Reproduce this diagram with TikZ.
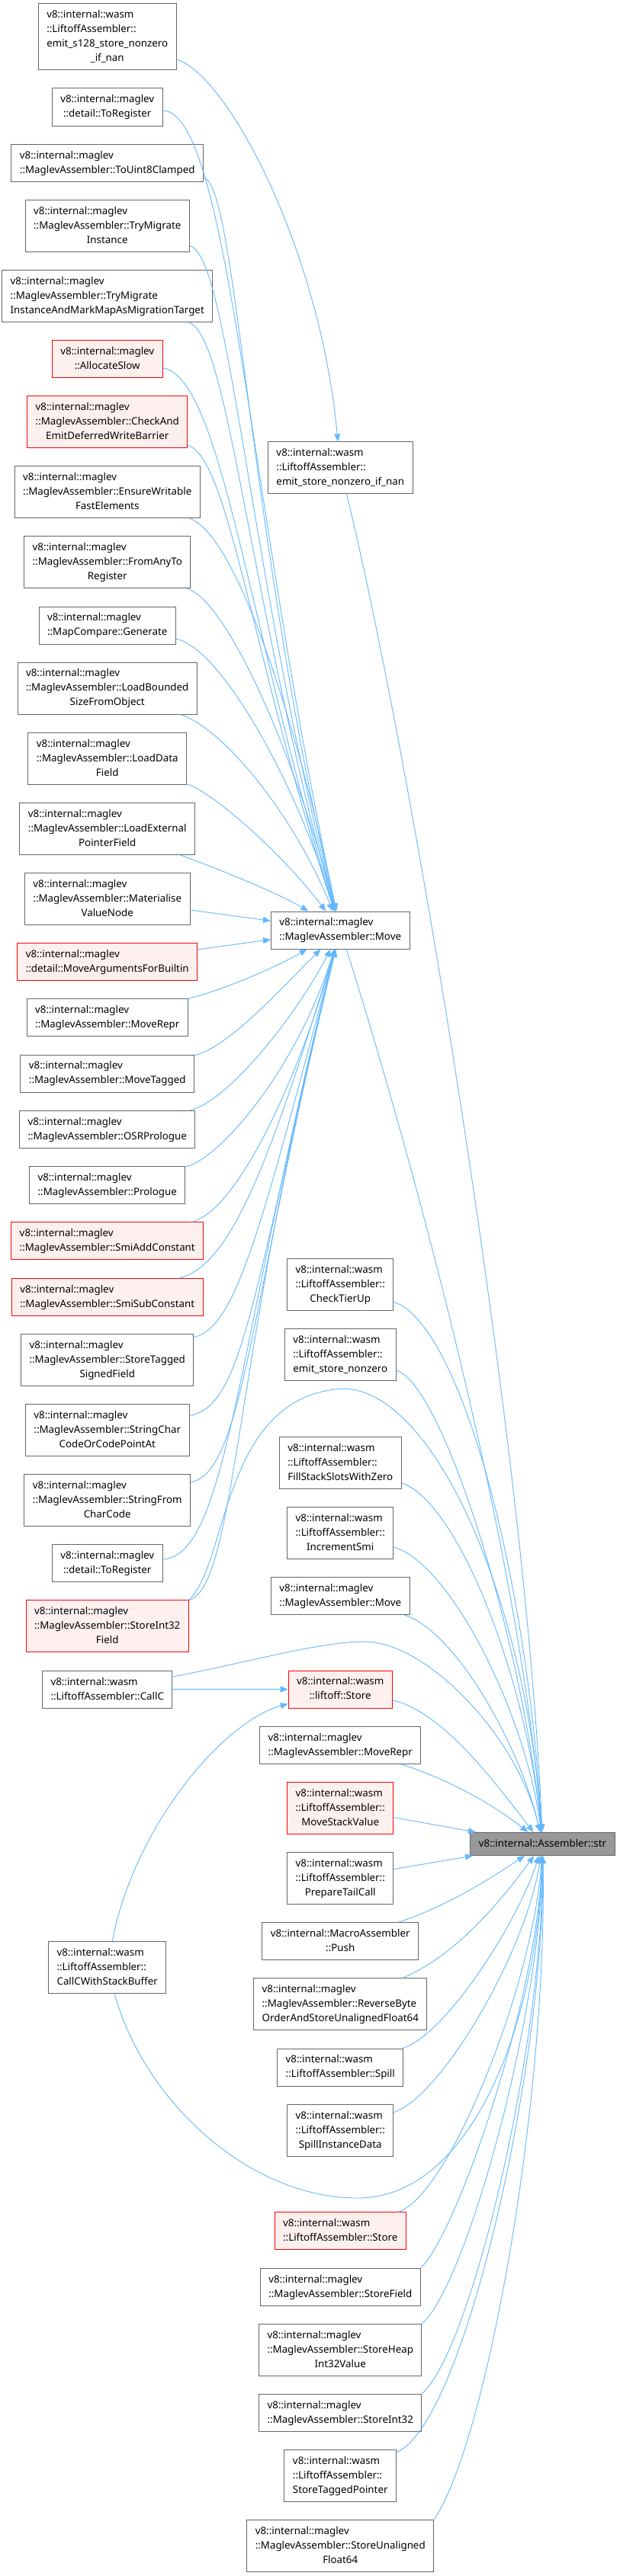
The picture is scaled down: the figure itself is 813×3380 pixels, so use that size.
\documentclass[tikz,border=0pt]{standalone}
\usepackage{fontspec}
\setmainfont{Noto Sans}
\usepackage{tikz}
\usepackage{xcolor}
\usetikzlibrary{arrows.meta}
\definecolor{edgeblue}{HTML}{63B8FF}
\definecolor{boxgray}{HTML}{666666}
\definecolor{redline}{HTML}{FF0000}
\definecolor{redfill}{HTML}{FFF0F0}
\definecolor{tgtfill}{HTML}{999999}
\newcommand\fnlab[2]{\begin{tabular}{@{}l@{}}#1\\\multicolumn{1}{@{}c@{}}{#2}\end{tabular}}
\tikzset{
  fnbox/.style={draw=boxgray,fill=white,line width=1pt,
                inner xsep=11pt,inner ysep=5.5pt,
                font=\fontsize{13.33}{19}\selectfont},
  fnred/.style={fnbox,draw=redline,fill=redfill},
  fntarget/.style={fnbox,fill=tgtfill},
  calledge/.style={draw=edgeblue,line width=0.9pt,
                   -{Triangle[length=10pt,width=8pt]}}
}

\begin{document}
\begin{tikzpicture}[x=1pt,y=-1pt]
  \fill[white] (0,0) rectangle (813,3380);
  \useasboundingbox (0,0) rectangle (813,3380);

  \node[fnbox] (s128) at (140.75,48.5) {\fnlab{v8::internal::wasm\\::LiftoffAssembler::\\emit\_s128\_store\_nonzero}{\_if\_nan}};
  \node[fnbox] (toreg) at (140.75,140.5) {\fnlab{v8::internal::maglev}{::detail::ToRegister}};
  \node[fnbox] (u8) at (140.75,214) {\fnlab{v8::internal::maglev}{::MaglevAssembler::ToUint8Clamped}};
  \node[fnbox] (tmi) at (140.75,296.5) {\fnlab{v8::internal::maglev\\::MaglevAssembler::TryMigrate}{Instance}};
  \node[fnbox] (tmm) at (140.75,388.6) {\fnlab{v8::internal::maglev\\::MaglevAssembler::TryMigrate}{InstanceAndMarkMapAsMigrationTarget}};
  \node[fnred] (alloc) at (140.75,471.3) {\fnlab{v8::internal::maglev}{::AllocateSlow}};
  \node[fnred] (chk) at (140.75,553.7) {\fnlab{v8::internal::maglev\\::MaglevAssembler::CheckAnd}{EmitDeferredWriteBarrier}};
  \node[fnbox] (ens) at (140.75,645.7) {\fnlab{v8::internal::maglev\\::MaglevAssembler::EnsureWritable}{FastElements}};
  \node[fnbox] (fat) at (140.75,737.6) {\fnlab{v8::internal::maglev\\::MaglevAssembler::FromAnyTo}{Register}};
  \node[fnbox] (mapc) at (140.75,820.5) {\fnlab{v8::internal::maglev}{::MapCompare::Generate}};
  \node[fnbox] (lbs) at (140.75,903.1) {\fnlab{v8::internal::maglev\\::MaglevAssembler::LoadBounded}{SizeFromObject}};
  \node[fnbox] (ldf) at (140.75,995.2) {\fnlab{v8::internal::maglev\\::MaglevAssembler::LoadData}{Field}};
  \node[fnbox] (lep) at (140.75,1087.2) {\fnlab{v8::internal::maglev\\::MaglevAssembler::LoadExternal}{PointerField}};
  \node[fnbox] (mat) at (140.75,1179.4) {\fnlab{v8::internal::maglev\\::MaglevAssembler::Materialise}{ValueNode}};
  \node[fnred] (mab) at (140.75,1261.8) {\fnlab{v8::internal::maglev}{::detail::MoveArgumentsForBuiltin}};
  \node[fnbox] (mrp) at (140.75,1335.3) {\fnlab{v8::internal::maglev}{::MaglevAssembler::MoveRepr}};
  \node[fnbox] (mtg) at (140.75,1408.5) {\fnlab{v8::internal::maglev}{::MaglevAssembler::MoveTagged}};
  \node[fnbox] (osr) at (140.75,1481.8) {\fnlab{v8::internal::maglev}{::MaglevAssembler::OSRPrologue}};
  \node[fnbox] (pro) at (140.75,1555.1) {\fnlab{v8::internal::maglev}{::MaglevAssembler::Prologue}};
  \node[fnred] (sadd) at (140.75,1628.4) {\fnlab{v8::internal::maglev}{::MaglevAssembler::SmiAddConstant}};
  \node[fnred] (ssub) at (140.75,1701.9) {\fnlab{v8::internal::maglev}{::MaglevAssembler::SmiSubConstant}};
  \node[fnbox] (sts) at (140.75,1784.6) {\fnlab{v8::internal::maglev\\::MaglevAssembler::StoreTagged}{SignedField}};
  \node[fnbox] (scc) at (140.75,1876.3) {\fnlab{v8::internal::maglev\\::MaglevAssembler::StringChar}{CodeOrCodePointAt}};
  \node[fnbox] (sfc) at (140.75,1968.5) {\fnlab{v8::internal::maglev\\::MaglevAssembler::StringFrom}{CharCode}};
  \node[fnbox] (toregb) at (140.75,2051.2) {\fnlab{v8::internal::maglev}{::detail::ToRegister}};
  \node[fnred] (si32f) at (140.75,2133.7) {\fnlab{v8::internal::maglev\\::MaglevAssembler::StoreInt32}{Field}};
  \node[fnbox] (callc) at (140.75,2216.7) {\fnlab{v8::internal::wasm}{::LiftoffAssembler::CallC}};
  \node[fnbox] (ccsb) at (140.75,2581.7) {\fnlab{v8::internal::wasm\\::LiftoffAssembler::}{CallCWithStackBuffer}};

  \node[fnbox] (snzn) at (446.25,613.9) {\fnlab{v8::internal::wasm\\::LiftoffAssembler::}{emit\_store\_nonzero\_if\_nan}};
  \node[fnbox] (mv) at (446.25,1220.5) {\fnlab{v8::internal::maglev}{::MaglevAssembler::Move}};
  \node[fnbox] (ctu) at (446.25,1685.9) {\fnlab{v8::internal::wasm\\::LiftoffAssembler::}{CheckTierUp}};
  \node[fnbox] (snz) at (446.25,1777.7) {\fnlab{v8::internal::wasm\\::LiftoffAssembler::}{emit\_store\_nonzero}};
  \node[fnbox] (fss) at (446.25,1919.2) {\fnlab{v8::internal::wasm\\::LiftoffAssembler::}{FillStackSlotsWithZero}};
  \node[fnbox] (ism) at (446.25,2011.2) {\fnlab{v8::internal::wasm\\::LiftoffAssembler::}{IncrementSmi}};
  \node[fnbox] (mvb) at (446.25,2093.9) {\fnlab{v8::internal::maglev}{::MaglevAssembler::Move}};
  \node[fnred] (lst) at (446.25,2216.5) {\fnlab{v8::internal::wasm}{::liftoff::Store}};
  \node[fnbox] (mrpb) at (446.25,2289.8) {\fnlab{v8::internal::maglev}{::MaglevAssembler::MoveRepr}};
  \node[fnred] (msv) at (446.25,2372.4) {\fnlab{v8::internal::wasm\\::LiftoffAssembler::}{MoveStackValue}};
  \node[fnbox] (ptc) at (446.25,2464.4) {\fnlab{v8::internal::wasm\\::LiftoffAssembler::}{PrepareTailCall}};
  \node[fnbox] (push) at (446.25,2547.2) {\fnlab{v8::internal::MacroAssembler}{::Push}};
  \node[fnbox] (rbo) at (446.25,2629.7) {\fnlab{v8::internal::maglev\\::MaglevAssembler::ReverseByte}{OrderAndStoreUnalignedFloat64}};
  \node[fnbox] (spl) at (446.25,2712.5) {\fnlab{v8::internal::wasm}{::LiftoffAssembler::Spill}};
  \node[fnbox] (sid) at (446.25,2795.3) {\fnlab{v8::internal::wasm\\::LiftoffAssembler::}{SpillInstanceData}};
  \node[fnred] (lasst) at (446.25,2927.3) {\fnlab{v8::internal::wasm}{::LiftoffAssembler::Store}};
  \node[fnbox] (sfd) at (446.25,3000.7) {\fnlab{v8::internal::maglev}{::MaglevAssembler::StoreField}};
  \node[fnbox] (shi) at (446.25,3083.3) {\fnlab{v8::internal::maglev\\::MaglevAssembler::StoreHeap}{Int32Value}};
  \node[fnbox] (si32) at (446.25,3165.8) {\fnlab{v8::internal::maglev}{::MaglevAssembler::StoreInt32}};
  \node[fnbox] (stp) at (446.25,3248.6) {\fnlab{v8::internal::wasm\\::LiftoffAssembler::}{StoreTaggedPointer}};
  \node[fnbox] (suf) at (446.25,3340.5) {\fnlab{v8::internal::maglev\\::MaglevAssembler::StoreUnaligned}{Float64}};

  \node[fntarget] (str) at (711.5,2419.4) {\begin{tabular}{@{}c@{}}v8::internal::Assembler::str\end{tabular}};

  \draw[calledge] (s128) .. controls (300,100) and (420,330) .. (snzn);

  \draw[calledge] (toreg) .. controls (300,150) and (325,650) .. (mv);
  \draw[calledge] (u8) .. controls (310,240) and (325,700) .. (mv);
  \draw[calledge] (tmi) .. controls (300,335) and (325,740) .. (mv);
  \draw[calledge] (tmm) .. controls (300,440) and (325,780) .. (mv);
  \draw[calledge] (alloc) .. controls (290,495) and (325,820) .. (mv);
  \draw[calledge] (chk) .. controls (300,600) and (330,860) .. (mv);
  \draw[calledge] (ens) .. controls (310,700) and (390,950) .. (mv);
  \draw[calledge] (fat) .. controls (300,790) and (390,1000) .. (mv);
  \draw[calledge] (mapc) .. controls (290,850) and (390,1030) .. (mv);
  \draw[calledge] (lbs) .. controls (300,960) and (390,1080) .. (mv);
  \draw[calledge] (ldf) .. controls (280,1040) and (370,1120) .. (mv);
  \draw[calledge] (lep) .. controls (300,1145) and (370,1175) .. (mv);
  \draw[calledge] (mat) -- (mv);
  \draw[calledge] (mab) -- (mv);
  \draw[calledge] (mrp) .. controls (290,1300) and (360,1270) .. (mv);
  \draw[calledge] (mtg) .. controls (300,1375) and (375,1290) .. (mv);
  \draw[calledge] (osr) .. controls (300,1445) and (390,1330) .. (mv);
  \draw[calledge] (pro) .. controls (290,1520) and (390,1400) .. (mv);
  \draw[calledge] (sadd) .. controls (310,1590) and (390,1420) .. (mv);
  \draw[calledge] (ssub) .. controls (300,1660) and (350,1540) .. (mv);
  \draw[calledge] (sts) .. controls (310,1740) and (340,1620) .. (mv);
  \draw[calledge] (scc) .. controls (320,1845) and (330,1700) .. (mv);
  \draw[calledge] (sfc) .. controls (320,1930) and (325,1720) .. (mv);
  \draw[calledge] (toregb) .. controls (300,2040) and (310,1760) .. (mv);
  \draw[calledge] (si32f) .. controls (310,2080) and (305,1780) .. (mv);

  \draw[calledge] (callc) -- (lst);
  \draw[calledge] (ccsb) .. controls (175,2400) and (290,2260) .. (lst);

  \draw[calledge] (snzn) .. controls (540,1000) and (690,1900) .. (str);
  \draw[calledge] (mv) .. controls (510,1420) and (680,2000) .. (str);
  \draw[calledge] (ctu) .. controls (600,1735) and (690,2050) .. (str);
  \draw[calledge] (snz) .. controls (580,1815) and (685,2150) .. (str);
  \draw[calledge] (si32f.north east) .. controls (300,2050) and (290,1830) .. (451,1822)
                  .. controls (570,1825) and (690,2100) .. (str);
  \draw[calledge] (fss) .. controls (600,1970) and (690,2200) .. (str);
  \draw[calledge] (ism) .. controls (590,2050) and (690,2250) .. (str);
  \draw[calledge] (mvb) .. controls (600,2140) and (685,2300) .. (str);
  \draw[calledge] (callc) .. controls (330,2180) and (420,2154) .. (478,2154)
                  .. controls (560,2154) and (680,2280) .. (str);
  \draw[calledge] (lst) .. controls (580,2245) and (650,2340) .. (str);
  \draw[calledge] (mrpb) .. controls (590,2335) and (650,2370) .. (str);
  \draw[calledge] (msv) -- (str);
  \draw[calledge] (ptc) -- (str);
  \draw[calledge] (push) .. controls (590,2500) and (650,2460) .. (str);
  \draw[calledge] (rbo) .. controls (600,2565) and (660,2490) .. (str);
  \draw[calledge] (spl) .. controls (585,2670) and (680,2520) .. (str);
  \draw[calledge] (sid) .. controls (580,2750) and (690,2560) .. (str);
  \draw[calledge] (ccsb) .. controls (190,2760) and (330,2885) .. (470,2884)
                  .. controls (620,2883) and (705,2650) .. (str);
  \draw[calledge] (lasst) .. controls (590,2880) and (700,2600) .. (str);
  \draw[calledge] (sfd.north east) .. controls (600,2930) and (705,2620) .. (str);
  \draw[calledge] (shi.north east) .. controls (610,3000) and (708,2650) .. (str);
  \draw[calledge] (si32.north east) .. controls (620,3080) and (712,2680) .. (str);
  \draw[calledge] (stp) .. controls (610,3180) and (715,2700) .. (str);
  \draw[calledge] (suf.north east) .. controls (640,3200) and (718,2750) .. (str);
\end{tikzpicture}
\end{document}
